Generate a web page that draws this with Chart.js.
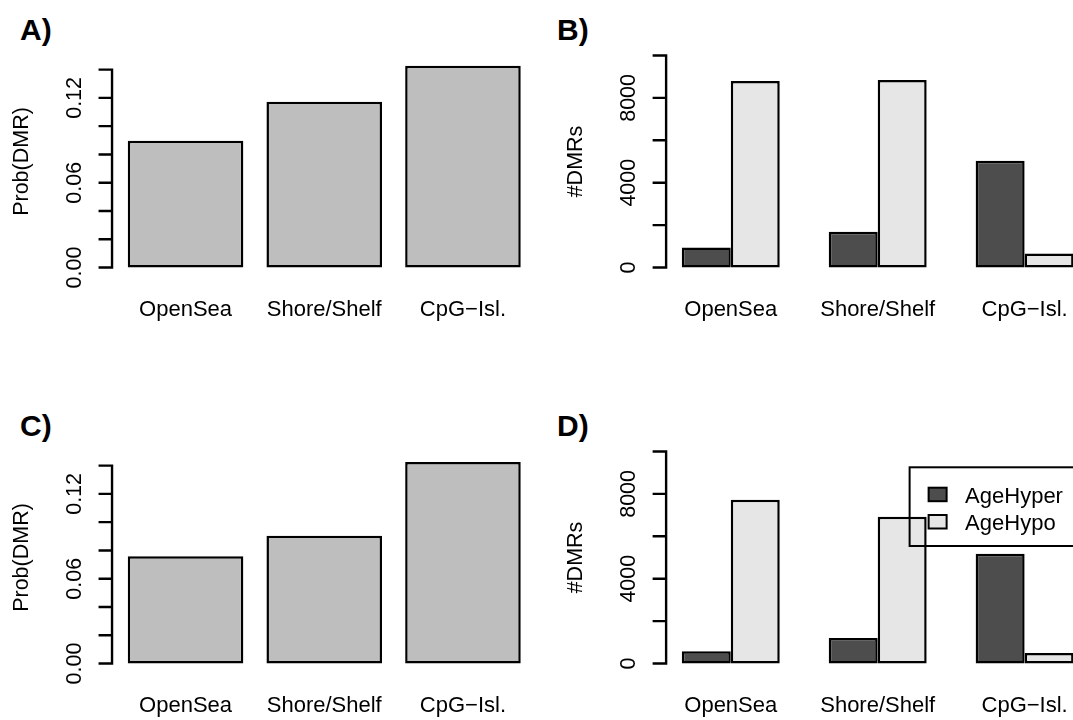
<!DOCTYPE html>
<html lang="en">
<head>
    <meta charset="UTF-8">
    <title>DMR barplots</title>
    <style>
        body {margin: 0; background: #fff; overflow: hidden; width: 1073px; height: 720px; position: relative;}
        canvas {position: absolute;}
        .tag {position: absolute; font: bold 30px 'Liberation Sans', Arial, sans-serif; line-height: 30px; color: #000;}
    </style>
    <script src="https://cdn.jsdelivr.net/npm/chart.js@4.4.1/dist/chart.umd.min.js"></script>
</head>
<body>
    <div class="tag" style="left:20px; top:15px;">A)</div>
    <div class="tag" style="left:557px; top:15px;">B)</div>
    <div class="tag" style="left:20px; top:411px;">C)</div>
    <div class="tag" style="left:557px; top:411px;">D)</div>

    <canvas id="panelA" width="540" height="396" style="left:0px; top:0px;"></canvas>
    <canvas id="panelB" width="560" height="396" style="left:540px; top:0px;"></canvas>
    <canvas id="panelC" width="540" height="396" style="left:0px; top:396px;"></canvas>
    <canvas id="panelD" width="560" height="396" style="left:540px; top:396px;"></canvas>

    <script>
        // values
        const regions = ['OpenSea', 'Shore/Shelf', 'CpG\u2212Isl.'];
        const probTop = [0.0897, 0.1173, 0.1428];
        const probBottom = [0.0758, 0.0904, 0.1425];
        const hyperTop = [950, 1690, 5030];
        const hypoTop = [8800, 8845, 660];
        const hyperBottom = [580, 1205, 5175];
        const hypoBottom = [7720, 6920, 500];

        const probTicks = [0, 0.02, 0.04, 0.06, 0.08, 0.10, 0.12, 0.14];
        const probLabelAt = [0, 0.06, 0.12];
        const probLabelText = ['0.00', '0.06', '0.12'];
        const countTicks = [0, 2000, 4000, 6000, 8000, 10000];
        const countLabelAt = [0, 4000, 8000];
        const countLabelText = ['0', '4000', '8000'];
        const seriesNames = ['AgeHyper', 'AgeHypo'];

        const FONT = "'Liberation Sans', Arial, sans-serif";

        // R style left axis: line only over the tick range, placed 4% outside the bars
        const rAxis = {
            id: 'rAxis',
            afterDraw(chart, args, o) {
                if (!o.ticks) return;
                const ctx = chart.ctx, y = chart.scales.y, area = chart.chartArea;
                const metas = chart.getSortedVisibleDatasetMetas();
                const first = metas[0].data[0];
                const lastMeta = metas[metas.length - 1];
                const last = lastMeta.data[lastMeta.data.length - 1];
                const x0 = first.x - first.width / 2, x1 = last.x + last.width / 2;
                const ax = x0 - 0.04 * (x1 - x0);
                ctx.save();
                ctx.strokeStyle = '#000';
                ctx.lineWidth = 2.4;
                ctx.beginPath();
                ctx.moveTo(ax, y.getPixelForValue(o.ticks[0]) + 1.2);
                ctx.lineTo(ax, y.getPixelForValue(o.ticks[o.ticks.length - 1]) - 1.2);
                o.ticks.forEach(t => {
                    const py = y.getPixelForValue(t);
                    ctx.moveTo(ax - 13.5, py);
                    ctx.lineTo(ax, py);
                });
                ctx.stroke();
                ctx.fillStyle = '#000';
                ctx.font = '21.5px ' + FONT;
                ctx.textAlign = 'center';
                ctx.textBaseline = 'alphabetic';
                o.labelAt.forEach((v, i) => {
                    ctx.save();
                    ctx.translate(ax - 31.5, y.getPixelForValue(v));
                    ctx.rotate(-Math.PI / 2);
                    ctx.fillText(o.labelText[i], 0, 0);
                    ctx.restore();
                });
                ctx.save();
                ctx.translate(ax - 84, (area.top + area.bottom) / 2);
                ctx.rotate(-Math.PI / 2);
                ctx.fillText(o.title, 0, 0);
                ctx.restore();

                // boxed legend (panel D only)
                if (o.legend) {
                    const bx = ax + 243.5, by = area.top + 24.3;
                    ctx.lineWidth = 2;
                    ctx.font = '22px ' + FONT;
                    ctx.strokeRect(bx, by, area.right + 10 - bx, 78.7);
                    chart.data.datasets.forEach((ds, i) => {
                        const ty = by + 20.4 + i * 27.3;
                        ctx.fillStyle = ds.backgroundColor;
                        ctx.fillRect(bx + 19, ty, 18, 13.5);
                        ctx.strokeRect(bx + 19, ty, 18, 13.5);
                        ctx.fillStyle = '#000';
                        ctx.textAlign = 'left';
                        ctx.fillText(ds.label, bx + 55.5, by + 36 + i * 27);
                    });
                }
                ctx.restore();
            }
        };

        function makePanel(id, datasets, limit, pad, axisOpts, catPct, barPct) {
            return new Chart(document.getElementById(id), {
                type: 'bar',
                data: {labels: regions, datasets: datasets},
                options: {
                    responsive: false,
                    animation: false,
                    events: [],
                    layout: {padding: pad},
                    datasets: {bar: {categoryPercentage: catPct, barPercentage: barPct}},
                    plugins: {legend: {display: false}, tooltip: {enabled: false}, rAxis: axisOpts},
                    scales: {
                        x: {
                            grid: {display: false, drawTicks: false},
                            border: {display: false},
                            ticks: {color: '#000', font: {family: FONT, size: 22}, padding: 21, autoSkip: false, maxRotation: 0},
                            afterFit(s) { s.height = 50; }
                        },
                        y: {display: false, min: -0.04 * limit, max: 1.04 * limit}
                    }
                },
                plugins: [rAxis]
            });
        }

        function barSet(label, values, color) {
            return {label: label, data: values, backgroundColor: color, borderColor: '#000', borderWidth: 2.5, borderSkipped: false};
        }

        const padLeft = {top: 47, bottom: 70, left: 116.2, right: 7.7};
        const padRight = {top: 47, bottom: 70, left: 117.3, right: 1.9};
        const probAxis = {ticks: probTicks, labelAt: probLabelAt, labelText: probLabelText, title: 'Prob(DMR)'};
        const countAxis = {ticks: countTicks, labelAt: countLabelAt, labelText: countLabelText, title: '#DMRs'};

        makePanel('panelA', [barSet('Prob', probTop, '#bebebe')], 0.15, padLeft, probAxis, 1, 1 / 1.2);
        makePanel('panelB', [barSet(seriesNames[0], hyperTop, '#4d4d4d'), barSet(seriesNames[1], hypoTop, '#e6e6e6')],
            10000, padRight, countAxis, 2 / 3, 1);
        makePanel('panelC', [barSet('Prob', probBottom, '#bebebe')], 0.15, padLeft, probAxis, 1, 1 / 1.2);
        makePanel('panelD', [barSet(seriesNames[0], hyperBottom, '#4d4d4d'), barSet(seriesNames[1], hypoBottom, '#e6e6e6')],
            10000, padRight, Object.assign({legend: true}, countAxis), 2 / 3, 1);
    </script>
</body>
</html>
